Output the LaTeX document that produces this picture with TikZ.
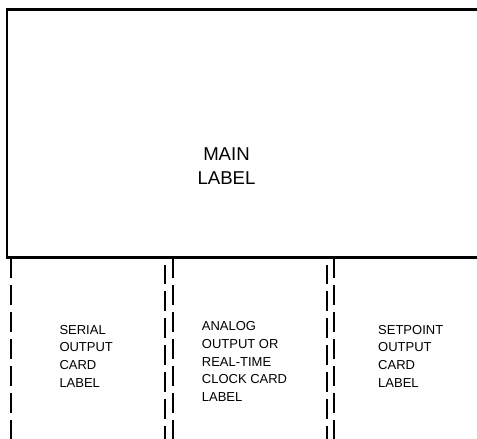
\documentclass[tikz,border=0pt]{standalone}
\usepackage{fontspec}
\setmainfont{Liberation Sans}
\begin{document}
\begin{tikzpicture}[x=1pt,y=1pt,
  boxline/.style={line width=2.4pt},
  cardline/.style={line width=1.9pt, dash pattern=on 19.5pt off 7.4pt},
  cardlineshift/.style={cardline, dash phase=20.9pt},
  biglabel/.style={font=\fontsize{18.6}{24.4}\selectfont, align=center, inner sep=0pt},
  cardlabel/.style={font=\fontsize{13}{17.6}\selectfont, align=left, inner sep=0pt, anchor=north west}]
\useasboundingbox (0,0) rectangle (477,-439);
\clip (0,0) rectangle (477,-439);
% main box
\coordinate (tl) at (7,-9.5);
\coordinate (tr) at (490,-9.5);
\coordinate (bl) at (7,-257.5);
\coordinate (br) at (490,-257.5);
\draw[boxline] (tr) -- (tl) -- (bl) -- (br);
\node[biglabel] (main) at (226.5,-166) {MAIN\\LABEL};
% card separators
\coordinate (a1) at (10.7,-258.5);  \coordinate (a2) at (10.7,-445);
\coordinate (b1) at (165.3,-258.5); \coordinate (b2) at (165.3,-445);
\coordinate (c1) at (172.7,-258.5); \coordinate (c2) at (172.7,-445);
\coordinate (d1) at (326.7,-258.5); \coordinate (d2) at (326.7,-445);
\coordinate (e1) at (334.3,-258.5); \coordinate (e2) at (334.3,-445);
\draw[cardline] (a1) -- (a2);
\draw[cardlineshift] (b1) -- (b2);
\draw[cardline] (c1) -- (c2);
\draw[cardlineshift] (d1) -- (d2);
\draw[cardline] (e1) -- (e2);
% card labels
\node[cardlabel] (serial) at (59.3,-325) {SERIAL\\OUTPUT\\CARD\\LABEL};
\node[cardlabel] (analog) at (201.7,-321.7) {ANALOG\\OUTPUT OR\\REAL-TIME\\CLOCK CARD\\LABEL};
\node[cardlabel] (setpoint) at (378,-325) {SETPOINT\\OUTPUT\\CARD\\LABEL};
\end{tikzpicture}
\end{document}
